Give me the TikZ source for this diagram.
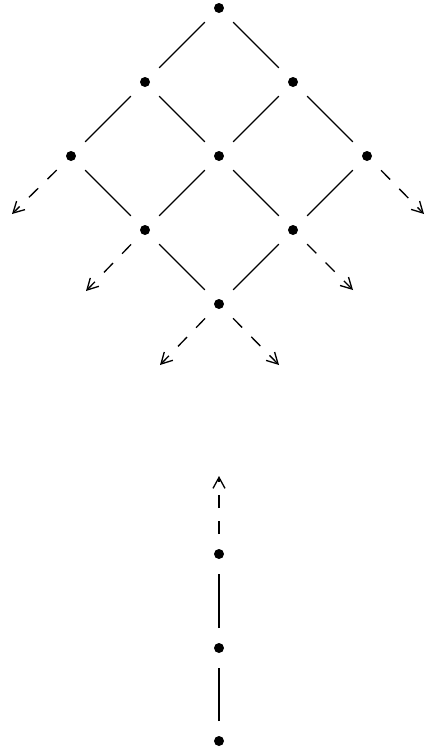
\documentclass[tikz,border=0pt]{standalone}
\usepackage{tikz}
\usetikzlibrary{arrows.meta}

\begin{document}
\begin{tikzpicture}[
  x=0.02cm, y=-0.02cm,
  >={Straight Barb[length=2.2mm, width=2.4mm]},
  pt/.style={circle, fill=black, inner sep=0pt, minimum size=2mm, outer sep=3mm},
  edge/.style={line width=0.75pt},
  free/.style={->, line width=0.75pt, dash pattern=on 2.6mm off 2.6mm}
]
\useasboundingbox (0,0) rectangle (424,751);

% lattice
\node[pt] (a) at (219,8) {};
\node[pt] (b1) at (145,82) {};
\node[pt] (b2) at (293,82) {};
\node[pt] (c1) at (71,156) {};
\node[pt] (c2) at (219,156) {};
\node[pt] (c3) at (367,156) {};
\node[pt] (d1) at (145,230) {};
\node[pt] (d2) at (293,230) {};
\node[pt] (e) at (219,304) {};

\coordinate (c1x) at (12,214);
\coordinate (c3x) at (424,214);
\coordinate (d1x) at (86,291);
\coordinate (d2x) at (353,290);
\coordinate (ex1) at (160,365);
\coordinate (ex2) at (279,365);

\draw[edge] (a) -- (b1);
\draw[edge] (a) -- (b2);
\draw[edge] (b1) -- (c1);
\draw[edge] (b1) -- (c2);
\draw[edge] (b2) -- (c2);
\draw[edge] (b2) -- (c3);
\draw[edge] (c1) -- (d1);
\draw[edge] (c2) -- (d1);
\draw[edge] (c2) -- (d2);
\draw[edge] (c3) -- (d2);
\draw[edge] (d1) -- (e);
\draw[edge] (d2) -- (e);

\draw[free] (c1) -- (c1x);
\draw[free] (c3) -- (c3x);
\draw[free] (d1) -- (d1x);
\draw[free] (d2) -- (d2x);
\draw[free] (e) -- (ex1);
\draw[free] (e) -- (ex2);

% chain
\node[pt] (p3) at (219,554) {};
\node[pt] (p2) at (219,648) {};
\node[pt] (p1) at (219,741) {};
\coordinate (p3x) at (219,476);

\draw[edge] (p1) -- (p2);
\draw[edge] (p2) -- (p3);
\draw[free] (p3) -- (p3x);
\end{tikzpicture}
\end{document}
